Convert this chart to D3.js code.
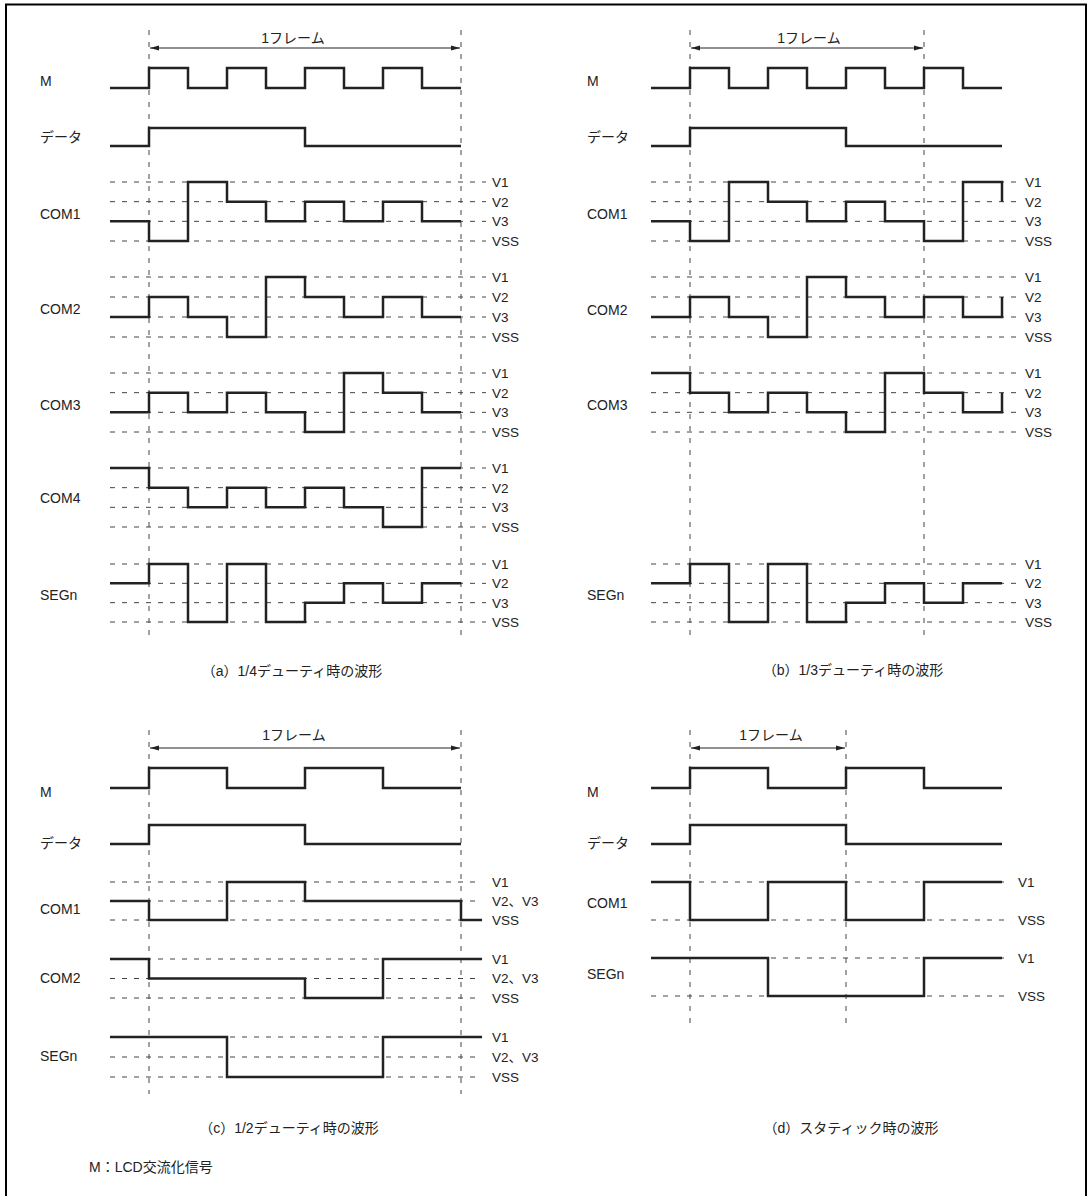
<!DOCTYPE html>
<html><head><meta charset="utf-8">
<script src="https://cdn.jsdelivr.net/npm/d3@7"></script>
<style>body{margin:0;background:#fff}</style>
</head><body>
<svg id="chart" width="1092" height="1196"></svg>
<script>
// ---------- level names ----------
const levels4 = ["V1", "V2", "V3", "VSS"];
const levels3 = ["V1", "V2、V3", "VSS"];
const levels2 = ["V1", "VSS"];
const digital = [1, 0];

// ---------- text ----------
const frameLabel = "1フレーム";
const captions = ["（a）1/4デューティ時の波形", "（b）1/3デューティ時の波形", "（c）1/2デューティ時の波形", "（d）スタティック時の波形"];
const footnote = "M：LCD交流化信号";
const rowNamesA = ["M", "データ", "COM1", "COM2", "COM3", "COM4", "SEGn"];
const rowNamesB = ["M", "データ", "COM1", "COM2", "COM3", "SEGn"];
const rowNamesC = ["M", "データ", "COM1", "COM2", "SEGn"];
const rowNamesD = ["M", "データ", "COM1", "SEGn"];

// ---------- frame boundaries (time units) ----------
const frameA = [1, 9];
const frameB = [1, 7];
const frameC = [1, 9];
const frameD = [1, 5];

// ---------- (a) 1/4 duty ----------
const a_M    = [0, 1, 0, 1, 0, 1, 0, 1, 0];
const a_DATA = [0, 1, 1, 1, 1, 0, 0, 0, 0];
const a_COM1 = ["V3", "VSS", "V1", "V2", "V3", "V2", "V3", "V2", "V3"];
const a_COM2 = ["V3", "V2", "V3", "VSS", "V1", "V2", "V3", "V2", "V3"];
const a_COM3 = ["V3", "V2", "V3", "V2", "V3", "VSS", "V1", "V2", "V3"];
const a_COM4 = ["V1", "V2", "V3", "V2", "V3", "V2", "V3", "VSS", "V1"];
const a_SEGn = ["V2", "V1", "VSS", "V1", "VSS", "V3", "V2", "V3", "V2"];

// ---------- (b) 1/3 duty ----------
const b_M    = [0, 1, 0, 1, 0, 1, 0, 1, 0];
const b_DATA = [0, 1, 1, 1, 1, 0, 0, 0, 0];
const b_COM1 = ["V3", "VSS", "V1", "V2", "V3", "V2", "V3", "VSS", "V1", "V2"];
const b_COM2 = ["V3", "V2", "V3", "VSS", "V1", "V2", "V3", "V2", "V3", "V2"];
const b_COM3 = ["V1", "V2", "V3", "V2", "V3", "VSS", "V1", "V2", "V3", "V2"];
const b_SEGn = ["V2", "V1", "VSS", "V1", "VSS", "V3", "V2", "V3", "V2"];

// ---------- (c) 1/2 duty ----------
const c_M    = [0, 1, 1, 0, 0, 1, 1, 0, 0];
const c_DATA = [0, 1, 1, 1, 1, 0, 0, 0, 0];
const c_COM1 = ["V2、V3", "VSS", "VSS", "V1", "V1", "V2、V3", "V2、V3", "V2、V3", "V2、V3", "VSS"];
const c_COM2 = ["V1", "V2、V3", "V2、V3", "V2、V3", "V2、V3", "VSS", "VSS", "V1", "V1", "V1"];
const c_SEGn = ["V1", "V1", "V1", "VSS", "VSS", "VSS", "VSS", "V1", "V1", "V1"];

// ---------- (d) static ----------
const d_M    = [0, 1, 1, 0, 0, 1, 1, 0, 0];
const d_DATA = [0, 1, 1, 1, 1, 0, 0, 0, 0];
const d_COM1 = ["V1", "VSS", "VSS", "V1", "V1", "VSS", "VSS", "V1", "V1"];
const d_SEGn = ["V1", "V1", "V1", "VSS", "VSS", "VSS", "VSS", "V1", "V1"];

// ---------- layout ----------
const FONT = "'Liberation Sans','Noto Sans CJK JP',Arial,sans-serif";
const INK = "#222";
const DASH = "#444";

const panels = [
  { x0: 110, x1: 461, labelX: 40, dashEnd: 486, lvlX: 492, vTop: 30, vBot: 636, arrowY: 48,
    ftX: 293, ftY: 38, cap: [292, 671], capText: captions[0], frame: frameA, tailEnd: 9,
    rows: [
      { name: rowNamesA[0], vals: a_M, dom: digital, top: 68, bot: 88, ly: 81 },
      { name: rowNamesA[1], vals: a_DATA, dom: digital, top: 128, bot: 146, ly: 137 },
      { name: rowNamesA[2], vals: a_COM1, dom: levels4, top: 182, bot: 241, ly: 214, ref: true },
      { name: rowNamesA[3], vals: a_COM2, dom: levels4, top: 277, bot: 337, ly: 309, ref: true },
      { name: rowNamesA[4], vals: a_COM3, dom: levels4, top: 373, bot: 432, ly: 405, ref: true },
      { name: rowNamesA[5], vals: a_COM4, dom: levels4, top: 468, bot: 527, ly: 498, ref: true },
      { name: rowNamesA[6], vals: a_SEGn, dom: levels4, top: 564, bot: 622, ly: 595, ref: true }
    ] },
  { x0: 651, x1: 1002, labelX: 587, dashEnd: 1016, lvlX: 1025, vTop: 30, vBot: 636, arrowY: 48,
    ftX: 809, ftY: 38, cap: [853, 670], capText: captions[1], frame: frameB, tailEnd: 9,
    rows: [
      { name: rowNamesB[0], vals: b_M, dom: digital, top: 68, bot: 88, ly: 81 },
      { name: rowNamesB[1], vals: b_DATA, dom: digital, top: 128, bot: 146, ly: 137 },
      { name: rowNamesB[2], vals: b_COM1, dom: levels4, top: 182, bot: 241, ly: 214, ref: true },
      { name: rowNamesB[3], vals: b_COM2, dom: levels4, top: 277, bot: 337, ly: 310, ref: true },
      { name: rowNamesB[4], vals: b_COM3, dom: levels4, top: 373, bot: 432, ly: 405, ref: true },
      { name: rowNamesB[5], vals: b_SEGn, dom: levels4, top: 564, bot: 622, ly: 595, ref: true }
    ] },
  { x0: 110, x1: 461, labelX: 40, dashEnd: 482, lvlX: 492, vTop: 730, vBot: 1094, arrowY: 748,
    ftX: 294, ftY: 735, cap: [289, 1128], capText: captions[2], frame: frameC, tailEnd: 9.54,
    rows: [
      { name: rowNamesC[0], vals: c_M, dom: digital, top: 768, bot: 788, ly: 792 },
      { name: rowNamesC[1], vals: c_DATA, dom: digital, top: 825, bot: 844, ly: 843 },
      { name: rowNamesC[2], vals: c_COM1, dom: levels3, top: 882, bot: 920, ly: 909, ref: true },
      { name: rowNamesC[3], vals: c_COM2, dom: levels3, top: 959, bot: 998, ly: 978, ref: true },
      { name: rowNamesC[4], vals: c_SEGn, dom: levels3, top: 1037, bot: 1077, ly: 1056, ref: true }
    ] },
  { x0: 651, x1: 1002, labelX: 587, dashEnd: 1004, lvlX: 1018, vTop: 730, vBot: 1030, arrowY: 748,
    ftX: 771, ftY: 735, cap: [851, 1128], capText: captions[3], frame: frameD, tailEnd: 9,
    rows: [
      { name: rowNamesD[0], vals: d_M, dom: digital, top: 768, bot: 788, ly: 792 },
      { name: rowNamesD[1], vals: d_DATA, dom: digital, top: 825, bot: 844, ly: 843 },
      { name: rowNamesD[2], vals: d_COM1, dom: levels2, top: 882, bot: 920, ly: 903, ref: true },
      { name: rowNamesD[3], vals: d_SEGn, dom: levels2, top: 958, bot: 996, ly: 974, ref: true }
    ] }
];

const svg = d3.select("#chart");
svg.append("rect").attr("width", 1092).attr("height", 1196).attr("fill", "#fff");

// outer border (left, top, right)
svg.append("path")
  .attr("d", "M6,1200 L6,4.5 L1086,4.5 L1086,1200")
  .attr("fill", "none").attr("stroke", "#000").attr("stroke-width", 2);

panels.forEach(p => {
  const g = svg.append("g");
  const x = d3.scaleLinear().domain([0, 9]).range([p.x0, p.x1]);

  // vertical frame dashed lines
  p.frame.forEach(t => {
    g.append("line")
      .attr("x1", x(t)).attr("x2", x(t))
      .attr("y1", p.vTop).attr("y2", p.vBot)
      .attr("stroke", DASH).attr("stroke-width", 1)
      .attr("stroke-dasharray", "5,7");
  });

  // frame arrow
  const ax0 = x(p.frame[0]) + 1, ax1 = x(p.frame[1]) - 1, ay = p.arrowY;
  g.append("line").attr("x1", ax0).attr("x2", ax1).attr("y1", ay).attr("y2", ay)
    .attr("stroke", INK).attr("stroke-width", 1);
  const head = (xt, dir) => {
    const pth = d3.path();
    pth.moveTo(xt, ay);
    pth.lineTo(xt + dir * 9, ay - 2.5);
    pth.lineTo(xt + dir * 9, ay + 2.5);
    pth.closePath();
    return pth.toString();
  };
  g.append("path").attr("d", head(ax0, 1)).attr("fill", INK);
  g.append("path").attr("d", head(ax1, -1)).attr("fill", INK);
  g.append("text").attr("x", p.ftX).attr("y", p.ftY).attr("dy", "0.36em")
    .attr("text-anchor", "middle").attr("font-family", FONT).attr("font-size", 14)
    .attr("fill", INK).text(frameLabel);

  p.rows.forEach(r => {
    const y = d3.scalePoint().domain(r.dom).range([r.top, r.bot]);
    if (r.ref) {
      r.dom.forEach(lv => {
        g.append("line")
          .attr("x1", x(0)).attr("x2", p.dashEnd)
          .attr("y1", y(lv)).attr("y2", y(lv))
          .attr("stroke", DASH).attr("stroke-width", 1)
          .attr("stroke-dasharray", "5,7");
        g.append("text").attr("x", p.lvlX).attr("y", y(lv)).attr("dy", "0.36em")
          .attr("font-family", FONT).attr("font-size", 13.5).attr("fill", INK).text(lv);
      });
    }
    const n = r.vals.length;
    const pts = r.vals.map((v, i) => ({ t: i, v }));
    pts.push({ t: n <= 9 ? 9 : p.tailEnd, v: r.vals[n - 1] });
    const line = d3.line().x(d => x(d.t)).y(d => y(d.v)).curve(d3.curveStepAfter);
    g.append("path").attr("d", line(pts))
      .attr("fill", "none").attr("stroke", INK).attr("stroke-width", 2.5)
      .attr("stroke-linejoin", "miter").attr("stroke-linecap", "butt");
    g.append("text").attr("x", p.labelX).attr("y", r.ly).attr("dy", "0.36em")
      .attr("font-family", FONT).attr("font-size", 14).attr("fill", INK).text(r.name);
  });

  g.append("text").attr("x", p.cap[0]).attr("y", p.cap[1]).attr("dy", "0.36em")
    .attr("text-anchor", "middle").attr("font-family", FONT).attr("font-size", 14)
    .attr("fill", INK).text(p.capText);
});

svg.append("text").attr("x", 89).attr("y", 1167).attr("dy", "0.36em")
  .attr("font-family", FONT).attr("font-size", 14).attr("fill", INK).text(footnote);
</script>
</body></html>
